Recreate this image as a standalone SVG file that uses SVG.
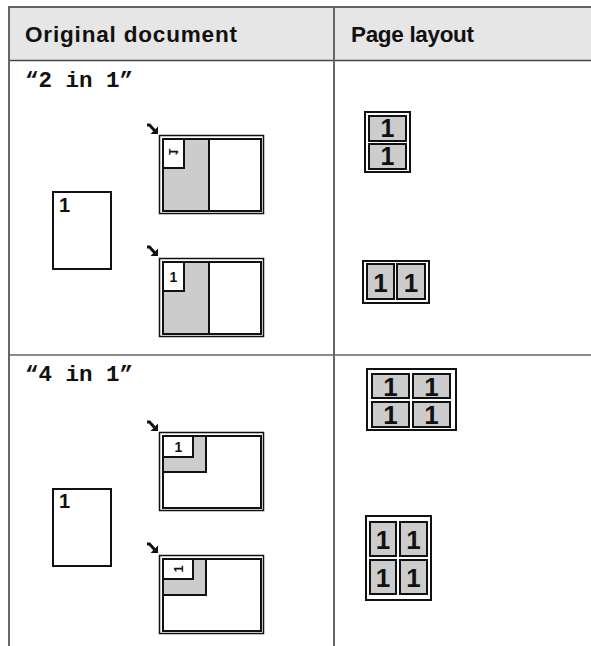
<svg xmlns="http://www.w3.org/2000/svg" width="591" height="646" viewBox="0 0 591 646">
<style>
.hdr{font-family:"Liberation Sans",Arial,sans-serif;font-weight:bold;font-size:22.5px;fill:#111}
.ttl{font-family:"Liberation Mono","Courier New",monospace;font-weight:bold;font-size:22.5px;fill:#111}
.one{font-family:"Liberation Sans",Arial,sans-serif;font-weight:bold;fill:#111}
.pg{fill:#fff;stroke:#111;stroke-width:2}
.outer{fill:#fff;stroke:#111;stroke-width:1.5}
.inner{fill:#fff;stroke:#111;stroke-width:2}
.gray{fill:#cccccc;stroke:#111;stroke-width:2}
.wbox{fill:#fff;stroke:#111;stroke-width:2}
.cell{fill:#cccccc;stroke:#111;stroke-width:2}
.frame{fill:#fff;stroke:#111;stroke-width:2}
.grid{stroke:#666;stroke-width:2;fill:none}
</style>
<defs>
<g id="arrow">
<path d="M0,1 L2.5,1 L7.5,6.5" fill="none" stroke="#111" stroke-width="3"/>
<polygon points="11,10 3.5,10 11,2.5" fill="#111"/>
</g>
</defs>
<g id="table">
<rect x="9" y="7" width="582" height="53" fill="#e6e6e6"/>
<line x1="8" y1="7" x2="591" y2="7" stroke="#333" stroke-width="1.5"/>
<line x1="9" y1="60.5" x2="591" y2="60.5" stroke="#444" stroke-width="1.5"/>
<line x1="9" y1="355" x2="591" y2="355" stroke="#666" stroke-width="1.5"/>
<line x1="9" y1="7" x2="9" y2="646" class="grid"/>
<line x1="334" y1="7" x2="334" y2="646" class="grid"/>
<text x="25" y="42" class="hdr" textLength="212" lengthAdjust="spacing">Original document</text>
<text x="351" y="42" class="hdr" textLength="123" lengthAdjust="spacing">Page layout</text>
<text x="25" y="87" class="ttl">“2 in 1”</text>
<text x="25" y="381" class="ttl">“4 in 1”</text>
</g>
<g id="orig-2in1">
<rect x="53" y="192" width="58" height="77" class="pg"/>
<text x="59" y="212" class="one" font-size="20">1</text>
</g>
<g id="copy-2in1-a">
<use href="#arrow" x="147" y="124"/>
<rect x="159.5" y="135.5" width="104" height="78" class="outer"/>
<rect x="163" y="139" width="98" height="72" class="inner"/>
<rect x="163" y="139" width="46" height="72" class="gray"/>
<rect x="163" y="139" width="21" height="29" class="wbox"/>
<text class="one" font-size="13" transform="translate(173.5,152) matrix(0,-1,-1,0,0,0)" text-anchor="middle" y="4.7">1</text>
</g>
<g id="copy-2in1-b">
<use href="#arrow" x="147" y="246"/>
<rect x="159.5" y="258.5" width="104" height="78" class="outer"/>
<rect x="163" y="262" width="98" height="72" class="inner"/>
<rect x="163" y="262" width="46" height="72" class="gray"/>
<rect x="163" y="262" width="21" height="29" class="wbox"/>
<text x="173.5" y="282" class="one" font-size="14" text-anchor="middle">1</text>
</g>
<g id="layout-2in1-a">
<rect x="365" y="112" width="45" height="60" class="frame"/>
<rect x="369" y="116" width="37" height="25" class="cell"/>
<rect x="369" y="144" width="37" height="25" class="cell"/>
<text x="387.5" y="137" class="one" font-size="25" text-anchor="middle">1</text>
<text x="387.5" y="165" class="one" font-size="25" text-anchor="middle">1</text>
</g>
<g id="layout-2in1-b">
<rect x="363" y="261" width="66" height="42" class="frame"/>
<rect x="367" y="264" width="27" height="35" class="cell"/>
<rect x="397" y="264" width="28" height="35" class="cell"/>
<text x="380.5" y="292" class="one" font-size="26" text-anchor="middle">1</text>
<text x="411" y="292" class="one" font-size="26" text-anchor="middle">1</text>
</g>
<g id="orig-4in1">
<rect x="53" y="489" width="58" height="77" class="pg"/>
<text x="59" y="508" class="one" font-size="20">1</text>
</g>
<g id="copy-4in1-a">
<use href="#arrow" x="147" y="421"/>
<rect x="159.5" y="432.5" width="104" height="78" class="outer"/>
<rect x="163" y="436" width="98" height="72" class="inner"/>
<rect x="163" y="436" width="43" height="36" class="gray"/>
<rect x="163" y="436" width="30" height="21" class="wbox"/>
<text x="178.5" y="452" class="one" font-size="14" text-anchor="middle">1</text>
</g>
<g id="copy-4in1-b">
<use href="#arrow" x="147" y="543"/>
<rect x="159.5" y="555.5" width="104" height="78" class="outer"/>
<rect x="163" y="559" width="98" height="72" class="inner"/>
<rect x="163" y="559" width="43" height="36" class="gray"/>
<rect x="163" y="559" width="30" height="20" class="wbox"/>
<text class="one" font-size="13" transform="translate(178,569) rotate(-90)" text-anchor="middle" y="4.7">1</text>
</g>
<g id="layout-4in1-a">
<rect x="367" y="369" width="89" height="61" class="frame"/>
<rect x="372" y="374" width="37" height="24" class="cell"/>
<rect x="413" y="374" width="37" height="24" class="cell"/>
<rect x="372" y="402" width="37" height="25" class="cell"/>
<rect x="413" y="402" width="37" height="25" class="cell"/>
<text x="390.5" y="396" class="one" font-size="26" text-anchor="middle">1</text>
<text x="431.5" y="396" class="one" font-size="26" text-anchor="middle">1</text>
<text x="390.5" y="424" class="one" font-size="26" text-anchor="middle">1</text>
<text x="431.5" y="424" class="one" font-size="26" text-anchor="middle">1</text>
</g>
<g id="layout-4in1-b">
<rect x="366" y="516" width="65" height="84" class="frame"/>
<rect x="370" y="522" width="26" height="34" class="cell"/>
<rect x="400" y="522" width="27" height="34" class="cell"/>
<rect x="370" y="560" width="26" height="34" class="cell"/>
<rect x="400" y="560" width="27" height="34" class="cell"/>
<text x="383" y="549" class="one" font-size="26" text-anchor="middle">1</text>
<text x="413.5" y="549" class="one" font-size="26" text-anchor="middle">1</text>
<text x="383" y="587" class="one" font-size="26" text-anchor="middle">1</text>
<text x="413.5" y="587" class="one" font-size="26" text-anchor="middle">1</text>
</g>
<g id="connectors"></g>
</svg>
